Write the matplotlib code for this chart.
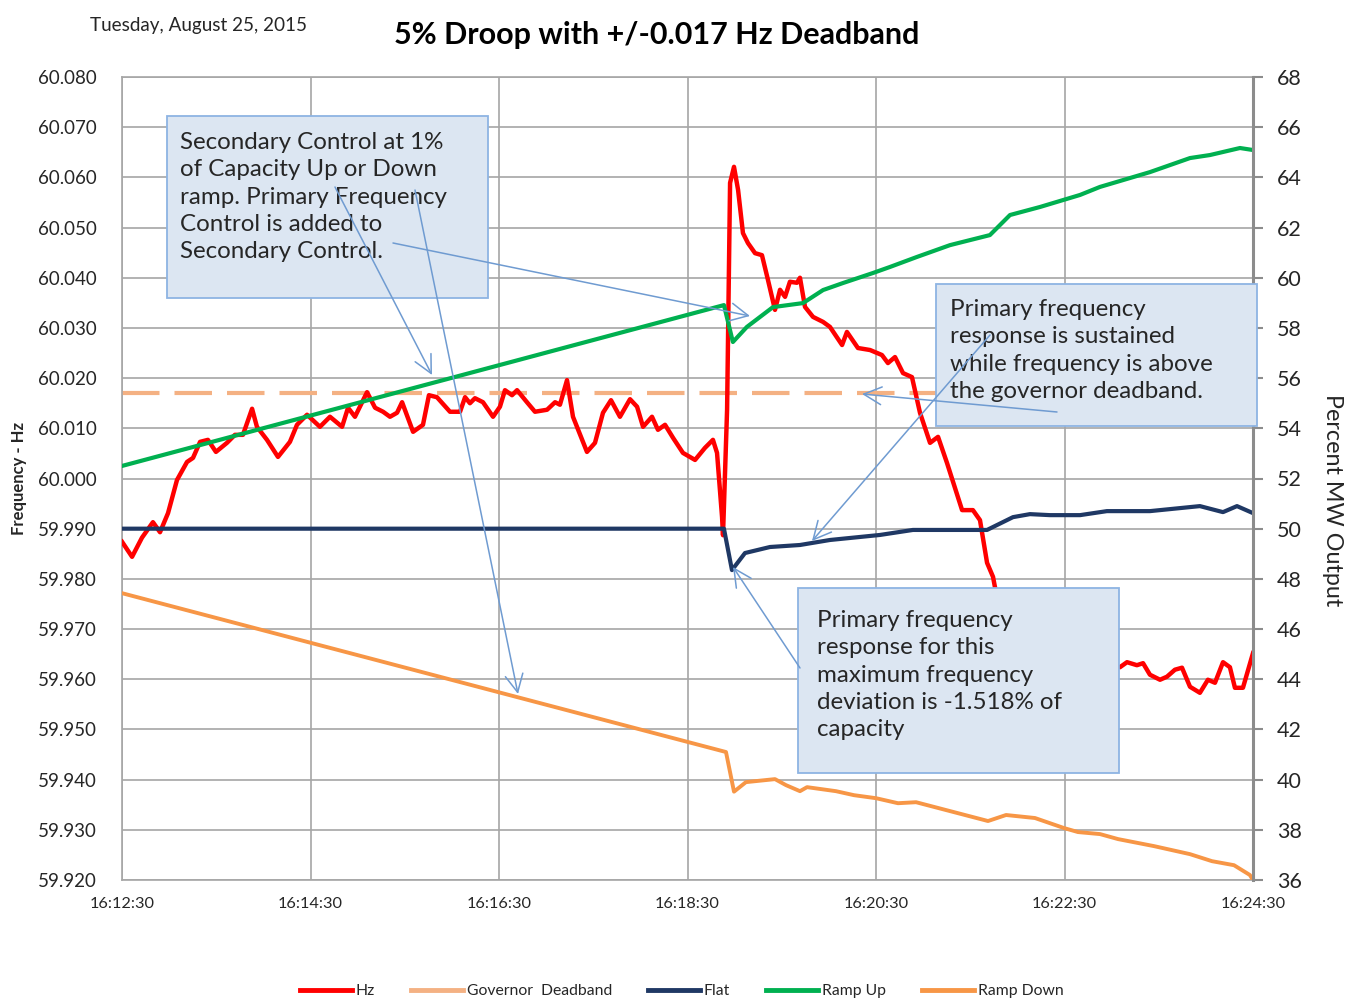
import numpy as np
import matplotlib
matplotlib.use('agg')
import matplotlib.pyplot as plt
from matplotlib.patches import Rectangle, FancyArrowPatch
from matplotlib.lines import Line2D

plt.rcParams['font.family'] = ['Lato', 'DejaVu Sans']

# time axis: seconds after 16:12:30
tick_seconds = [0, 120, 240, 360, 480, 600, 720]
tick_labels = ['16:12:30', '16:14:30', '16:16:30', '16:18:30', '16:20:30', '16:22:30', '16:24:30']

hz_t = [0, 6.4, 12.7, 19.7, 24.2, 29.3, 35.0, 41.4, 45.2, 49.7, 54.7, 59.8, 66.8, 71.9, 77.0,
        82.8, 85.9, 92.3, 99.3, 106.9, 111.4, 117.8, 126.0, 132.4, 140.1, 143.9, 148.3, 156.0,
        161.1, 166.2, 170.6, 175.1, 178.3, 185.3, 191.6, 195.4, 200.5, 208.8, 215.2, 218.4,
        221.5, 224.7, 229.8, 236.2, 240.6, 243.8, 248.3, 251.5, 257.8, 262.9, 270.6, 275.7,
        278.8, 283.3, 287.1, 296.0, 301.1, 306.2, 311.3, 317.0, 323.4, 327.9, 331.7, 337.4,
        341.2, 345.7, 350.8, 357.1, 364.8, 371.1, 376.2, 378.8, 382.0, 382.6, 385.2, 387.1,
        389.6, 392.2, 395.3, 398.5, 403.0, 407.4, 411.2, 415.7, 418.9, 422.1, 425.2, 429.7,
        431.6, 434.8, 439.9, 446.3, 450.7, 458.4, 461.5, 468.5, 476.2, 483.8, 487.6, 492.1,
        497.2, 502.9, 508.0, 514.4, 519.5, 525.2, 534.8, 541.7, 546.2, 550.7, 554.5, 555.7,
        562.1, 578.0, 597.1, 616.2, 635.3, 639.8, 646.1, 650.0, 654.4, 660.8, 665.2, 670.3,
        674.8, 679.9, 686.2, 691.3, 695.8, 700.9, 705.3, 708.5, 713.6, 720]
hz_val = [59.9874, 59.9844, 59.9882, 59.9913, 59.9893, 59.9931, 59.9997, 60.0033, 60.0041,
          60.0073, 60.0077, 60.0053, 60.0071, 60.0087, 60.0087, 60.0139, 60.0103, 60.0077,
          60.0043, 60.0073, 60.0107, 60.0127, 60.0103, 60.0123, 60.0103, 60.0141, 60.0123,
          60.0172, 60.0141, 60.0133, 60.0123, 60.0131, 60.0152, 60.0093, 60.0107, 60.0166,
          60.0162, 60.0133, 60.0133, 60.0162, 60.0150, 60.0160, 60.0152, 60.0123, 60.0143,
          60.0176, 60.0166, 60.0176, 60.0152, 60.0133, 60.0137, 60.0152, 60.0147, 60.0196,
          60.0123, 60.0053, 60.0071, 60.0131, 60.0156, 60.0123, 60.0158, 60.0143, 60.0103,
          60.0123, 60.0097, 60.0107, 60.0081, 60.0051, 60.0037, 60.0061, 60.0077, 60.0051,
          59.9923, 59.9887, 60.0137, 60.0589, 60.0621, 60.0575, 60.0489, 60.0469, 60.0449,
          60.0445, 60.0396, 60.0336, 60.0376, 60.0362, 60.0392, 60.0390, 60.0400, 60.0342,
          60.0322, 60.0312, 60.0302, 60.0266, 60.0292, 60.0260, 60.0256, 60.0246, 60.0230,
          60.0242, 60.0210, 60.0202, 60.0131, 60.0071, 60.0083, 60.0031, 59.9937, 59.9937,
          59.9917, 59.9832, 59.9804, 59.9784, 59.9718, 59.9658, 59.9634, 59.9638, 59.9624,
          59.9634, 59.9628, 59.9632, 59.9609, 59.9599, 59.9605, 59.9619, 59.9623, 59.9585,
          59.9573, 59.9599, 59.9593, 59.9634, 59.9624, 59.9583, 59.9583, 59.9652]

deadband = 60.017

flat_t = [0, 383.2, 388.3, 396.6, 412.5, 431.6, 450.7, 469.8, 482.5, 503.5, 550.7, 567.2,
          578.0, 590.7, 609.9, 627.0, 654.4, 686.2, 700.9, 709.8, 720]
flat_pct = [50.0, 50.0, 48.35, 49.03, 49.27, 49.35, 49.55, 49.67, 49.75, 49.95, 49.95, 50.46,
            50.58, 50.54, 50.54, 50.70, 50.70, 50.90, 50.66, 50.90, 50.62]

up_t = [0, 383.2, 388.9, 397.8, 414.4, 433.5, 446.3, 459.0, 478.1, 488.9, 506.1, 527.1,
        552.5, 565.3, 584.4, 609.9, 622.6, 654.4, 679.9, 692.6, 711.7, 720]
up_pct = [52.5, 58.91, 57.44, 58.04, 58.83, 58.99, 59.51, 59.79, 60.19, 60.43, 60.83, 61.30,
          61.70, 62.50, 62.82, 63.30, 63.62, 64.21, 64.77, 64.89, 65.17, 65.09]

down_t = [0, 384.5, 389.6, 397.2, 415.7, 422.7, 431.6, 436.1, 454.5, 466.0, 480.0, 494.0,
          505.5, 551.3, 562.8, 581.2, 599.7, 608.6, 622.6, 634.1, 657.0, 679.9, 693.9, 707.9,
          718.0, 720]
down_pct = [47.43, 41.10, 39.52, 39.90, 40.02, 39.78, 39.54, 39.70, 39.54, 39.38, 39.26, 39.06,
            39.10, 38.35, 38.59, 38.47, 38.07, 37.91, 37.83, 37.63, 37.35, 37.03, 36.75, 36.59,
            36.20, 36.0]

hz_ticks = [59.92, 59.93, 59.94, 59.95, 59.96, 59.97, 59.98, 59.99, 60.00,
            60.01, 60.02, 60.03, 60.04, 60.05, 60.06, 60.07, 60.08]
pct_ticks = list(range(36, 69, 2))

W, H = 1347, 1000
txt = '#262626'
grid_c = '#A6A6A6'

fig = plt.figure(figsize=(W / 100, H / 100), dpi=100)
ax = fig.add_axes([122 / W, 120 / H, 1131 / W, 803 / H])
ax2 = ax.twinx()

ax.axhline(deadband, color='#F4B183', lw=3, dashes=(9, 3.6), zorder=2)
ax.plot(hz_t, hz_val, color='#FF0000', lw=3.2, zorder=3)
ax2.plot(flat_t, flat_pct, color='#1F3864', lw=3)
ax2.plot(up_t, up_pct, color='#00B050', lw=3)
ax2.plot(down_t, down_pct, color='#F79646', lw=2.8)

ax.set_xlim(0, 720)
ax.set_ylim(59.92, 60.08)
ax2.set_ylim(36, 68)
ax.set_xticks(tick_seconds)
ax.set_xticklabels(tick_labels)
ax.set_yticks(hz_ticks)
ax.set_yticklabels(['%.3f' % v for v in hz_ticks])
ax2.set_yticks(pct_ticks)

ax.grid(True, color=grid_c, lw=1.2)
ax.set_axisbelow(True)
ax.tick_params(axis='both', length=0, colors=txt)
ax.tick_params(axis='y', pad=18, labelsize=13.5)
ax.tick_params(axis='x', pad=12, labelsize=11.7)
ax2.tick_params(axis='y', length=7, width=1.5, color='#8C8C8C', pad=10,
                labelsize=15.5, labelcolor=txt)
for s in ['left', 'bottom', 'top']:
    ax.spines[s].set_color(grid_c)
    ax.spines[s].set_linewidth(1.2)
    ax2.spines[s].set_visible(False)
ax.spines['right'].set_visible(False)
ax2.spines['right'].set_color('#8C8C8C')
ax2.spines['right'].set_linewidth(2.2)

fig.text(90 / W, 1 - 25 / H, 'Tuesday, August 25, 2015', fontsize=13.6, color=txt,
         ha='left', va='center')
fig.text(657 / W, 1 - 35 / H, '5% Droop with +/-0.017 Hz Deadband', fontsize=22,
         fontweight='bold', color='black', ha='center', va='center')
fig.text(19 / W, 1 - 478 / H, 'Frequency - Hz', fontsize=12, fontweight='bold',
         color=txt, rotation=90, ha='center', va='center')
fig.text(1333 / W, 1 - 500 / H, 'Percent MW Output', fontsize=16.8, color=txt,
         rotation=270, ha='center', va='center')

# callout boxes
def callout(x0, y0, x1, y1, tx, base, lines):
    fig.add_artist(Rectangle((x0 / W, 1 - y1 / H), (x1 - x0) / W, (y1 - y0) / H,
                             transform=fig.transFigure, facecolor='#DCE6F2',
                             edgecolor='#8EB4E3', lw=1.3, zorder=5))
    for i, s in enumerate(lines):
        fig.text(tx / W, 1 - (base + 27.3 * i) / H, s, fontsize=17.4, color=txt,
                 ha='left', va='baseline', zorder=6)

callout(167, 116, 488, 298, 180, 149,
        ['Secondary Control at 1%', 'of Capacity Up or Down',
         'ramp. Primary Frequency', 'Control is added to', 'Secondary Control.'])
callout(936, 284, 1257, 426, 950, 316,
        ['Primary frequency', 'response is sustained', 'while frequency is above',
         'the governor deadband.'])
callout(798, 588, 1119, 773, 817, 627,
        ['Primary frequency', 'response for this', 'maximum frequency',
         'deviation is -1.518% of', 'capacity'])

arrows = [((393, 243), (750, 316)), ((335, 187), (432, 375)), ((415, 190), (518, 694)),
          ((1057, 412), (862, 394)), ((990, 335), (812, 541)), ((800, 668), (733, 567))]
for (xa, ya), (xb, yb) in arrows:
    fig.add_artist(FancyArrowPatch((xa / W, 1 - ya / H), (xb / W, 1 - yb / H),
                                   transform=fig.transFigure,
                                   arrowstyle='->,head_length=0.8,head_width=0.4',
                                   mutation_scale=16, color='#6F9BD1', lw=1.1,
                                   shrinkA=0, shrinkB=0, zorder=7))

handles = [Line2D([], [], color='#FF0000', lw=3.5),
           Line2D([], [], color='#F4B183', lw=3.5),
           Line2D([], [], color='#1F3864', lw=3.5),
           Line2D([], [], color='#00B050', lw=3.5),
           Line2D([], [], color='#F79646', lw=3.5)]
names = ['Hz', 'Governor  Deadband', 'Flat', 'Ramp Up', 'Ramp Down']
fig.legend(handles, names, ncol=5, loc='center', bbox_to_anchor=(0.506, 0.009),
           frameon=False, fontsize=11.3, handlelength=3.3, handletextpad=0.25,
           columnspacing=2.3, labelcolor=txt)

plt.savefig('out.png', dpi=100)
